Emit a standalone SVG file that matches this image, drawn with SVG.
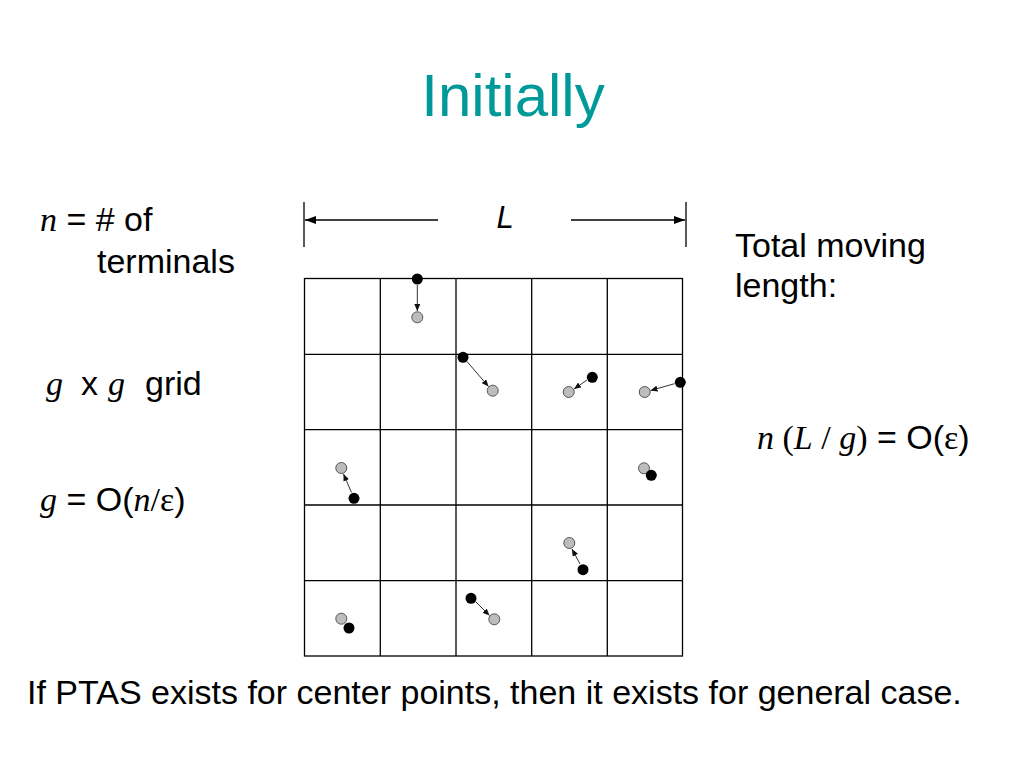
<svg xmlns="http://www.w3.org/2000/svg" width="1024" height="768" viewBox="0 0 1024 768">
<style>
.sans{font-family:"Liberation Sans",Arial,sans-serif;fill:#000}
.ser{font-family:"Liberation Serif","Times New Roman",serif}
.it{font-style:italic}
.grid{stroke:#000;stroke-width:1.3;fill:none}
.blk{fill:#000}
.gry{fill:#bdbdbd;stroke:#555;stroke-width:1}
.mv{stroke:#333;stroke-width:1;fill:none;marker-end:url(#sm)}
.dim{stroke:#000;stroke-width:1.3;fill:none;marker-end:url(#big)}
</style>
<defs>
<marker id="sm" markerUnits="userSpaceOnUse" markerWidth="8" markerHeight="6" refX="7" refY="3" orient="auto"><path d="M0,0 L7,3 L0,6 Z" fill="#111"/></marker>
<marker id="big" markerUnits="userSpaceOnUse" markerWidth="12" markerHeight="8" refX="11" refY="4" orient="auto"><path d="M0,0 L11,4 L0,8 Z" fill="#000"/></marker>
</defs>
<rect width="1024" height="768" fill="#fff"/>
<text id="title" x="513" y="116" text-anchor="middle" font-size="60" font-family="Liberation Sans,Arial,sans-serif" fill="#009999">Initially</text>

<g id="dimension">
<line class="grid" x1="304" y1="202" x2="304" y2="247"/>
<line class="grid" x1="686" y1="202" x2="686" y2="247"/>
<line class="dim" x1="438" y1="220" x2="305" y2="220"/>
<line class="dim" x1="571" y1="220" x2="685" y2="220"/>
<text class="sans" x="505" y="228" font-size="31" font-style="italic" text-anchor="middle">L</text>
</g>

<g id="grid">
<rect class="grid" x="304.5" y="278.5" width="378" height="377.5"/>
<line class="grid" x1="380.3" y1="278" x2="380.3" y2="656"/>
<line class="grid" x1="456" y1="278" x2="456" y2="656"/>
<line class="grid" x1="531.7" y1="278" x2="531.7" y2="656"/>
<line class="grid" x1="607.3" y1="278" x2="607.3" y2="656"/>
<line class="grid" x1="304" y1="354.3" x2="682" y2="354.3"/>
<line class="grid" x1="304" y1="429.7" x2="682" y2="429.7"/>
<line class="grid" x1="304" y1="505" x2="682" y2="505"/>
<line class="grid" x1="304" y1="580.7" x2="682" y2="580.7"/>
</g>

<g id="connectors">
<line class="mv" x1="417.3" y1="285" x2="417.3" y2="311"/>
<line class="mv" x1="467" y1="361.5" x2="488.5" y2="386.5"/>
<line class="mv" x1="587" y1="380" x2="574" y2="389"/>
<line class="mv" x1="674.5" y1="383.7" x2="650.5" y2="390.5"/>
<line class="mv" x1="351.5" y1="492.5" x2="343.5" y2="474"/>
<line class="mv" x1="580" y1="564" x2="572" y2="549"/>
<line class="mv" x1="475.5" y1="601.5" x2="489.5" y2="615.5"/>
</g>

<g id="terminals">
<circle class="gry" cx="417.3" cy="317.3" r="5.5"/>
<circle class="blk" cx="417.3" cy="279" r="5.5"/>
<circle class="gry" cx="492.7" cy="390.7" r="5.5"/>
<circle class="blk" cx="463" cy="357.3" r="5.5"/>
<circle class="gry" cx="568.7" cy="392" r="5.5"/>
<circle class="blk" cx="592.3" cy="377.3" r="5.5"/>
<circle class="gry" cx="644.7" cy="392" r="5.5"/>
<circle class="blk" cx="680.3" cy="382.3" r="5.5"/>
<circle class="gry" cx="341.3" cy="468" r="5.5"/>
<circle class="blk" cx="354" cy="498.3" r="5.5"/>
<circle class="gry" cx="644" cy="468.3" r="5.5"/>
<circle class="blk" cx="651.3" cy="475.3" r="5.5"/>
<circle class="gry" cx="569.3" cy="543" r="5.5"/>
<circle class="blk" cx="583" cy="569.7" r="5.5"/>
<circle class="gry" cx="494.3" cy="619.3" r="5.5"/>
<circle class="blk" cx="471" cy="598.3" r="5.5"/>
<circle class="gry" cx="341.3" cy="618.7" r="5.5"/>
<circle class="blk" cx="349" cy="628" r="5.5"/>
</g>

<g id="left-text" font-size="34">
<text x="40" y="231"><tspan class="ser it">n</tspan><tspan class="sans"> = # of</tspan></text>
<text class="sans" x="97" y="273">terminals</text>
<text class="ser it" x="46" y="395">g</text>
<text class="sans" x="81" y="395">x</text>
<text class="ser it" x="108" y="395">g</text>
<text class="sans" x="145" y="395">grid</text>
<text x="40" y="511"><tspan class="ser it">g</tspan><tspan class="sans"> = O(</tspan><tspan class="ser it">n</tspan><tspan class="ser">/ε</tspan><tspan class="sans">)</tspan></text>
</g>

<g id="right-text" font-size="34">
<text class="sans" x="735" y="257">Total moving</text>
<text class="sans" x="735" y="297">length:</text>
<text x="757" y="449"><tspan class="ser it">n</tspan><tspan class="ser"> (</tspan><tspan class="ser it">L</tspan><tspan class="ser"> / </tspan><tspan class="ser it">g</tspan><tspan class="ser">)</tspan><tspan class="sans"> = O(</tspan><tspan class="ser">ε</tspan><tspan class="sans">)</tspan></text>
</g>

<text id="footer" class="sans" x="27" y="704" font-size="34">If PTAS exists for center points, then it exists for general case.</text>
</svg>
